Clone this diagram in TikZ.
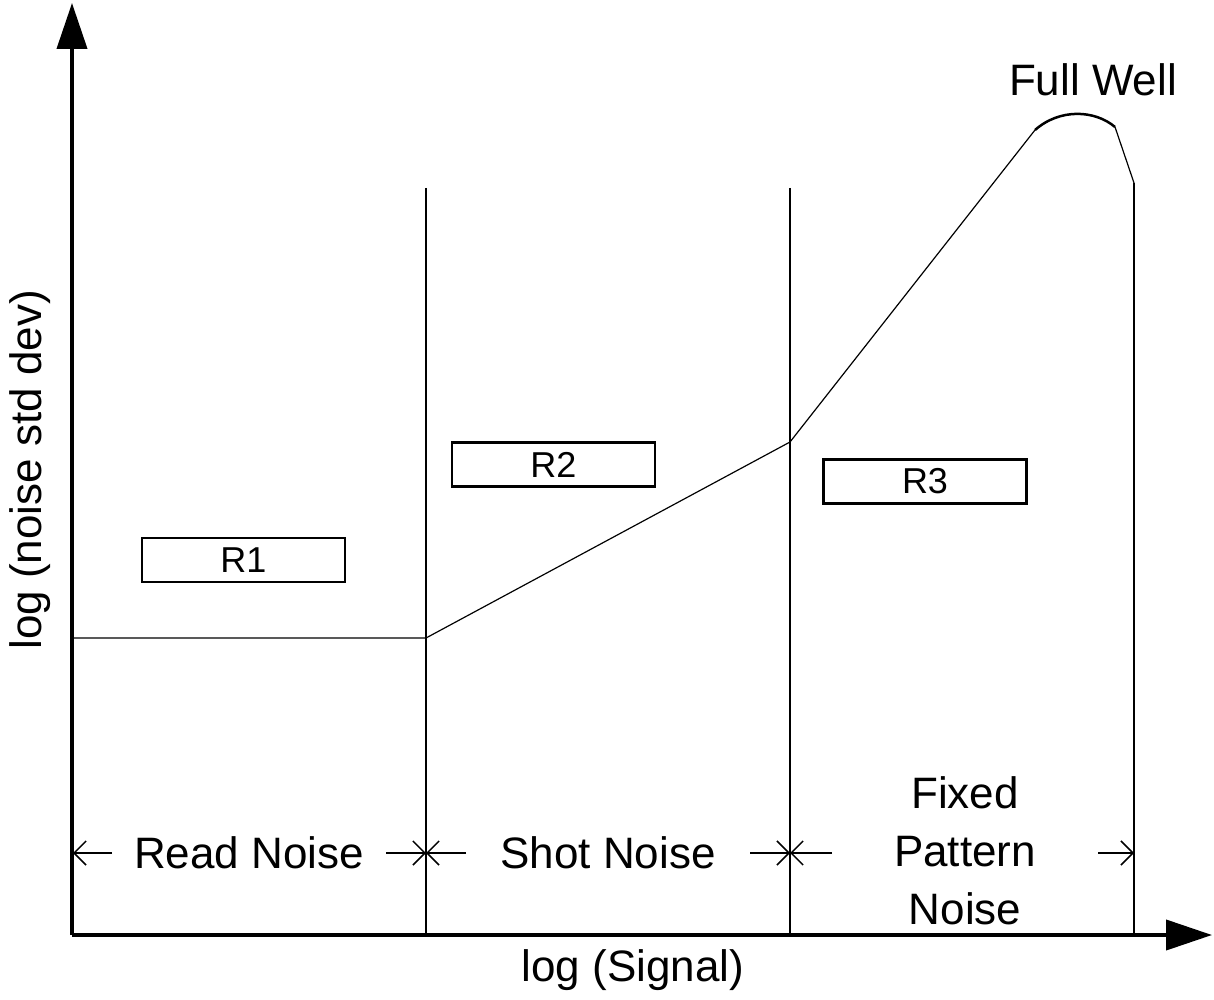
\documentclass[tikz,border=0pt]{standalone}
\usepackage{fontspec}
\setmainfont{Liberation Sans}
\usetikzlibrary{arrows.meta}
\begin{document}
\begin{tikzpicture}[x=1pt,y=-1pt,
  lbl/.style={font=\fontsize{44}{58}\selectfont,inner sep=0pt,align=center},
  thin/.style={line width=1.2pt},
  box/.style={draw,line width=2.5pt,minimum width=203pt,minimum height=44pt,inner sep=0pt,font=\fontsize{36}{40}\selectfont},
  ax/.style={line width=4pt,-{Triangle[length=46pt,width=30pt]}},
  dim/.style={line width=1.5pt,-{Straight Barb[length=12pt,width=24pt]}}]
\useasboundingbox (0,0) rectangle (1214,1000);
% axes
\coordinate (o) at (72,935);
\coordinate (ytop) at (72,3);
\coordinate (xend) at (1212,935);
\draw[ax] (o) -- (ytop);
\draw[ax] (o) -- (xend);
% verticals
\draw[thin] (426,188) -- (426,935);
\draw[thin] (790,188) -- (790,935);
\draw[thin] (1134,183) -- (1134,935);
% curve
\draw[thin] (72,638) -- (426,638) -- (790,442) -- (1035,130);
\draw[line width=2.5pt] (1035,130) .. controls (1060,108) and (1095,110) .. (1115,127);
\draw[thin] (1115,127) -- (1134,183);
% boxes
\node[box] (r1) at (243.5,560) {R1};
\node[box] (r2) at (553.5,464.5) {R2};
\node[box] (r3) at (925,481.5) {R3};
% labels
\node[lbl] (rn) at (249,853) {Read Noise};
\node[lbl] (sn) at (608,853) {Shot Noise};
\node[lbl] (fp) at (965,851) {Fixed\\Pattern\\Noise};
\node[lbl] (xl) at (633,970) {log (Signal)};
\node[lbl,rotate=90] (yl) at (30,470) {log (noise std dev)};
\node[lbl] (fw) at (1093,80) {Full Well};
% dimension arrows
\draw[dim] (112,853) -- (73,853);
\draw[dim] (386,853) -- (426,853);
\draw[dim] (466,853) -- (426,853);
\draw[dim] (750,853) -- (790,853);
\draw[dim] (832,853) -- (790,853);
\draw[dim] (1098,853) -- (1134,853);
\end{tikzpicture}
\end{document}
